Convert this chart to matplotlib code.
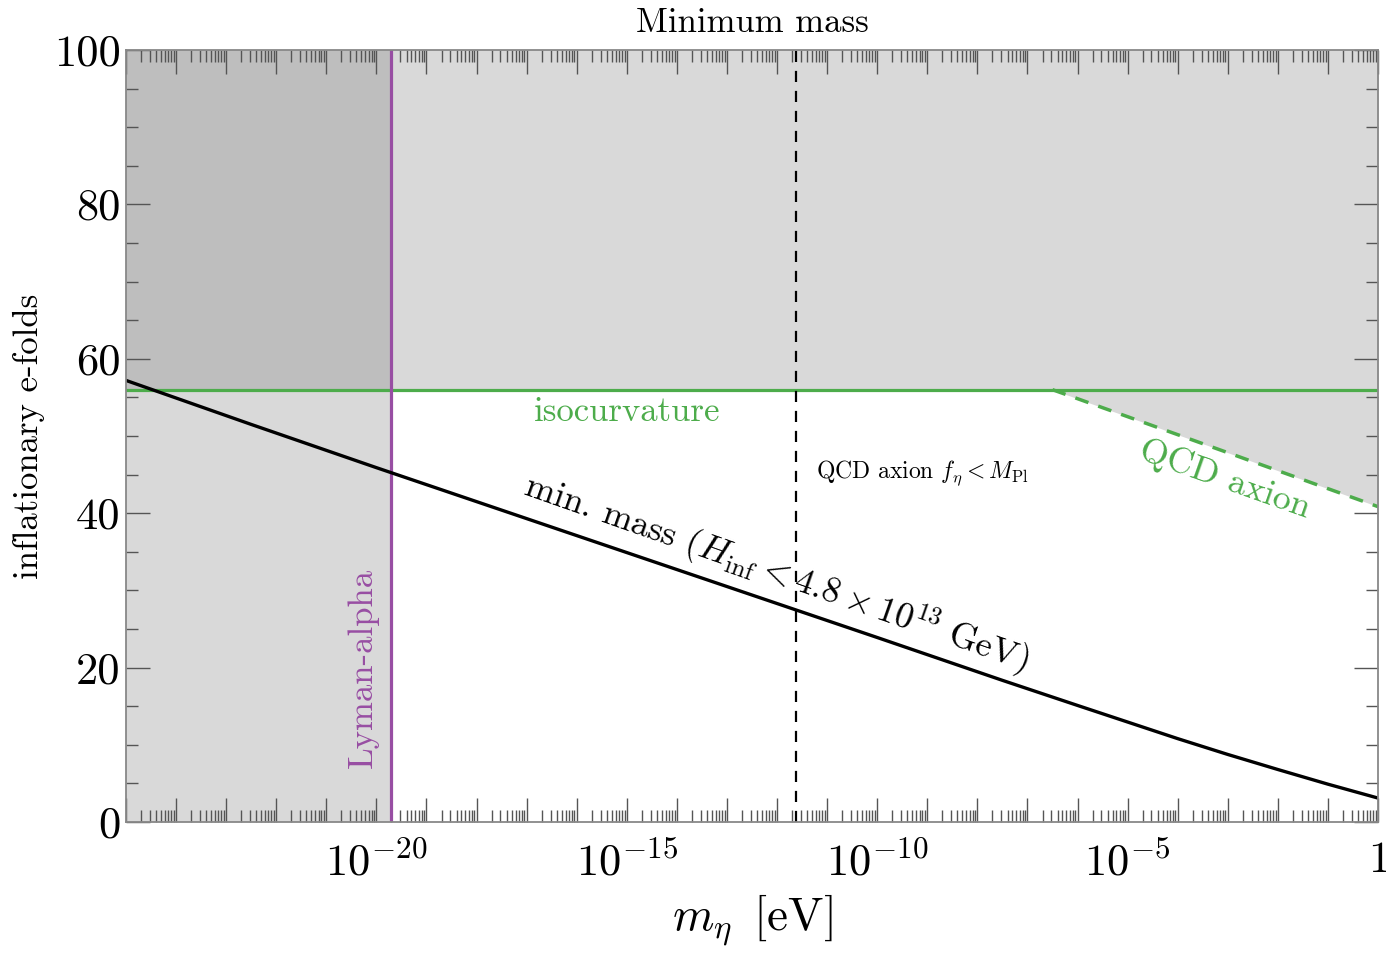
import numpy as np
import matplotlib
matplotlib.use("Agg")
import matplotlib.pyplot as plt
from matplotlib.ticker import FixedLocator, FixedFormatter, LogLocator, MultipleLocator, NullFormatter

plt.rcParams['font.family'] = 'serif'
plt.rcParams['font.serif'] = ['cmr10']
plt.rcParams['mathtext.fontset'] = 'cm'
plt.rcParams['axes.unicode_minus'] = False

# min. mass curve (log10 of mass in eV, e-folds)
logm_curve = [-25, -22.5, -20, -17.5, -15, -12.5, -10, -7.5, -6, -5, -4, -3, -2, -1, 0]
efolds_curve = [57.2, 51.5, 45.9, 40.4, 34.9, 29.4, 23.9, 18.35, 15.1, 12.95, 10.8, 8.75, 6.8, 4.9, 3.1]

# bounds
n_iso = 56.0
m_lyman = 1.95e-20
m_qcd_mpl = 2.4e-12
qcd_logm = [-6.5, 0.0]
qcd_efolds = [56.0, 40.85]

xmin, xmax = 1e-25, 1.0
light = '#d9d9d9'
dark = '#bebebe'
green = '#4dac4b'
purple = '#984ea3'

fig = plt.figure(figsize=(13.86, 9.55), dpi=100)
ax = fig.add_axes([126/1386, 1-822/955, (1378-126)/1386, (822-50)/955])

m_curve = 10.0**np.array(logm_curve)
m_qcd = 10.0**np.array(qcd_logm)

# shaded regions
ax.fill_between([xmin, m_lyman], 0, 100, color=light, lw=0)
ax.fill_between([xmin, xmax], n_iso, 100, color=light, lw=0)
ax.fill_between(m_qcd, qcd_efolds, 100, color=light, lw=0)
ax.fill_between([xmin, m_lyman], n_iso, 100, color=dark, lw=0)

ax.plot([xmin, xmax], [n_iso, n_iso], color=green, lw=2.3)
ax.plot(m_qcd, qcd_efolds, color=green, lw=2.5, dashes=(4, 3))
ax.plot([m_lyman, m_lyman], [0, 100], color=purple, lw=2.3)
ax.plot([m_qcd_mpl, m_qcd_mpl], [0, 100], color='k', lw=1.6, dashes=(5, 4))
ax.plot(m_curve, efolds_curve, color='k', lw=2.4)

ax.set_xscale('log')
ax.set_xlim(xmin, xmax)
ax.set_ylim(0, 100)

maj = [10.0**k for k in range(-25, 1)]
labs = []
for k in range(-25, 1):
    if k == 0:
        labs.append(r'$1$')
    elif k % 5 == 0 and k != -25:
        labs.append(r'$10^{%d}$' % k)
    else:
        labs.append('')
ax.xaxis.set_major_locator(FixedLocator(maj))
ax.xaxis.set_major_formatter(FixedFormatter(labs))
ax.xaxis.set_minor_locator(LogLocator(base=10, subs=np.arange(2, 10), numticks=100))
ax.xaxis.set_minor_formatter(NullFormatter())
ax.yaxis.set_major_locator(MultipleLocator(20))
ax.yaxis.set_minor_locator(MultipleLocator(5))

ax.tick_params(which='both', direction='in', top=True, right=True, color='#555555', width=1.0)
ax.tick_params(which='major', length=17, labelsize=32)
ax.tick_params(which='minor', length=8.5)
ax.tick_params(axis='x', which='major', pad=14)
ax.tick_params(axis='y', which='major', pad=4)
for s in ax.spines.values():
    s.set_color('#888888')
    s.set_linewidth(1.3)

ax.set_title('Minimum mass', fontsize=25, pad=13)
ax.set_xlabel(r'$m_\eta\ \, [\mathrm{eV}]$', fontsize=34, labelpad=6)
ax.set_ylabel('inflationary e-folds', fontsize=25, labelpad=6)

ax.text(1e-15, 53.1, 'isocurvature', color=green, fontsize=25, ha='center', va='center')
ax.text(5.9e-12, 45.2, r'QCD axion $f_\eta < M_{\rm Pl}$', fontsize=17, ha='left', va='center')
ax.text(10**-20.27, 20.0, 'Lyman-alpha', color=purple, fontsize=25, rotation=90,
        ha='center', va='center')
ax.text(10**-12.0, 32.3, r'min. mass $(H_{\rm inf} < 4.8 \times 10^{13}\ \mathrm{GeV})$',
        fontsize=26, rotation=-19.4, ha='center', va='center', rotation_mode='anchor')
ax.text(10**-3.05, 44.4, 'QCD axion', color=green, fontsize=26, rotation=-19.4,
        ha='center', va='center', rotation_mode='anchor')

fig.savefig('out.png', dpi=100)
